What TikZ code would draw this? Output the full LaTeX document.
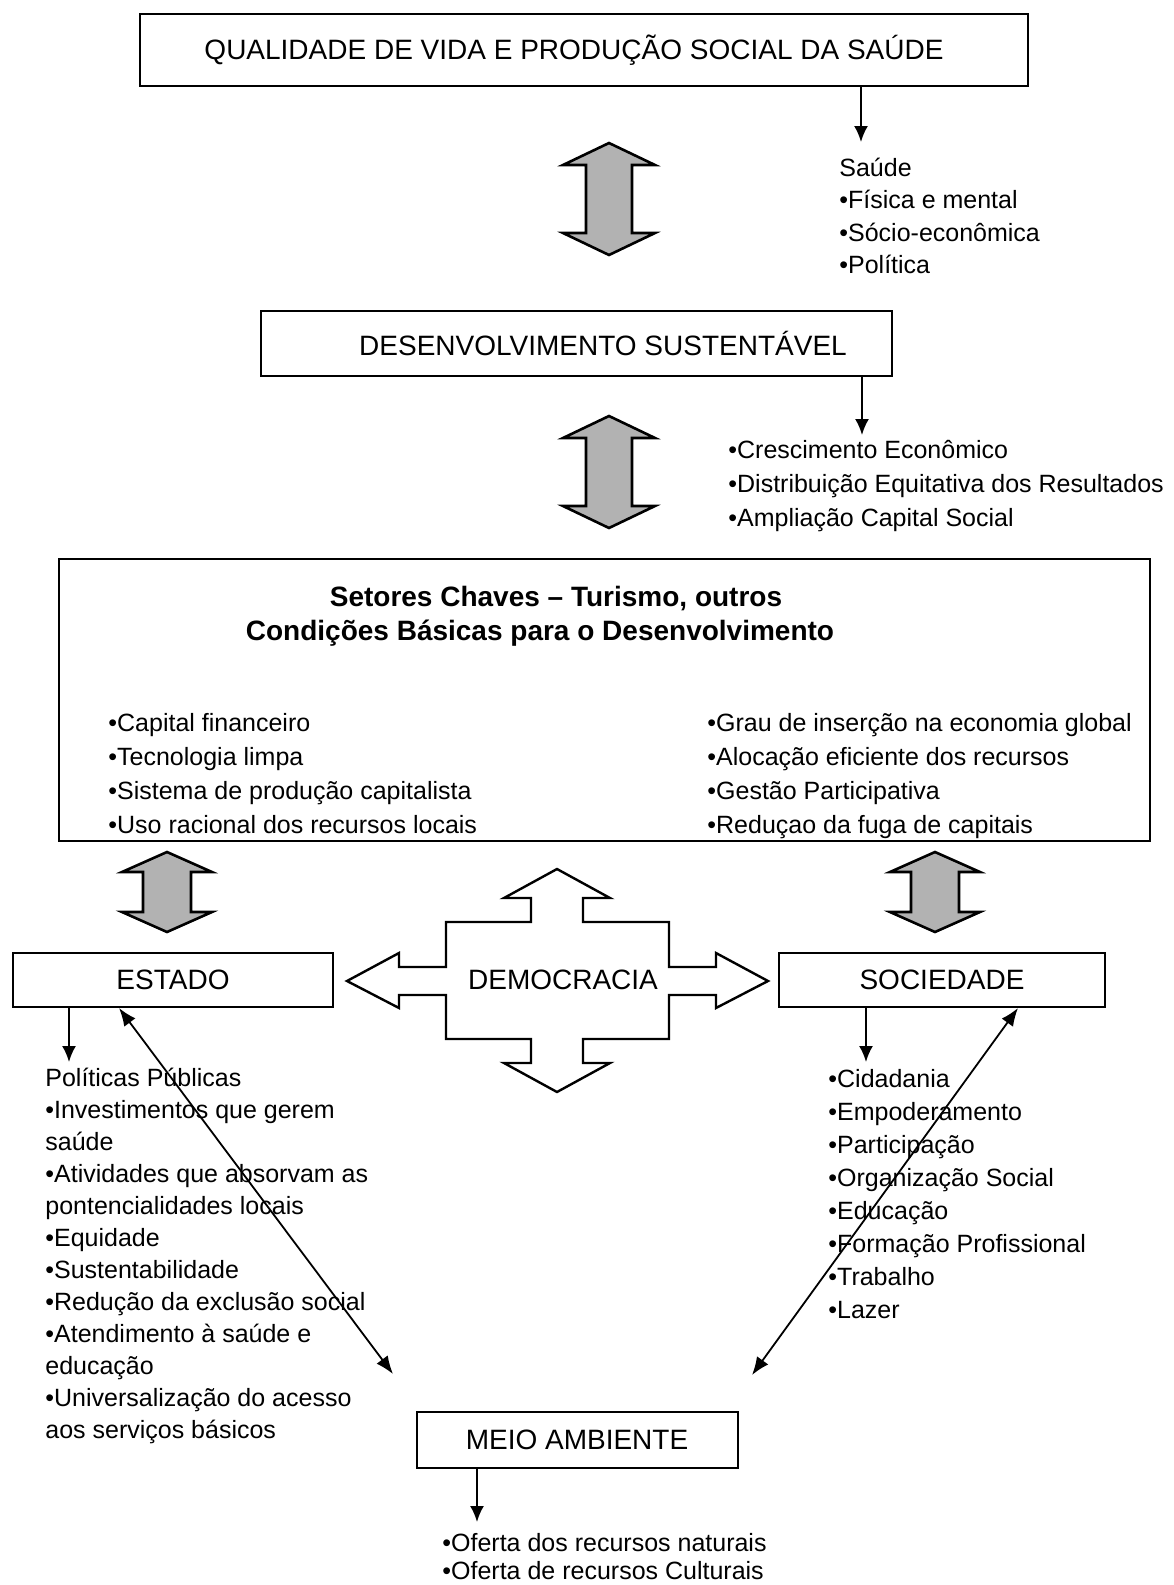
\documentclass[tikz,border=0pt]{standalone}
\usepackage{fontspec}
\setmainfont{Liberation Sans}
\usetikzlibrary{arrows.meta}

\tikzset{
  box/.style={draw, line width=1pt, inner sep=0pt, font=\fontsize{14}{17}\selectfont},
  item/.style={anchor=base west, inner sep=0pt, font=\fontsize{12.5}{15}\selectfont},
  conn/.style={line width=1pt, -{Latex[length=8pt,width=7pt]}},
  diag/.style={line width=0.9pt, {Latex[length=9pt,width=7pt]}-{Latex[length=9pt,width=7pt]}},
  fatarrow/.style={draw, line width=1.3pt, fill=gray!60, line join=miter},
  hollow/.style={draw, line width=1.2pt, fill=white, line join=miter}
}

\begin{document}
\begin{tikzpicture}[x=0.5pt, y=-0.5pt]
  \useasboundingbox (0,0) rectangle (1173,1585);

  % boxes
  \node[box, minimum width=444pt, minimum height=36pt] (qual) at (584,50) {QUALIDADE DE VIDA E PRODUÇÃO SOCIAL DA SAÚDE\hspace*{10pt}};
  \node[box, minimum width=315.5pt, minimum height=32.5pt] (desenv) at (576,343) {\hspace*{27pt}DESENVOLVIMENTO SUSTENTÁVEL};
  \node[box, minimum width=545.5pt, minimum height=141pt] (setores) at (604.5,700) {};
  \node[font=\bfseries\fontsize{14}{17}\selectfont] (titulo1) at (556,599) {Setores Chaves – Turismo, outros};
  \node[font=\bfseries\fontsize{14}{17}\selectfont] (titulo2) at (540,633) {Condições Básicas para o Desenvolvimento};
  \node[box, minimum width=160pt, minimum height=27pt] (estado) at (173,980) {ESTADO};
  \node[box, minimum width=163pt, minimum height=27pt] (sociedade) at (942,980) {SOCIEDADE};
  \node[box, minimum width=160.5pt, minimum height=28pt] (meio) at (577,1440) {MEIO AMBIENTE};

  % gray double arrows
  \foreach \cx/\ty/\by/\hw/\sw/\hh in {609/143/255/46/23/22, 609/416/528/46/23/22, 167/852/932/45/24/20, 935/852/932/45/24/20}
    \draw[fatarrow] (\cx,\ty) -- (\cx+\hw,\ty+\hh) -- (\cx+\sw,\ty+\hh) -- (\cx+\sw,\by-\hh) -- (\cx+\hw,\by-\hh) -- (\cx,\by)
      -- (\cx-\hw,\by-\hh) -- (\cx-\sw,\by-\hh) -- (\cx-\sw,\ty+\hh) -- (\cx-\hw,\ty+\hh) -- cycle;

  % democracia
  \draw[hollow] (557,869) -- (610,898) -- (583,898) -- (583,922) -- (669,922) -- (669,967) -- (716,967) -- (716,953)
    -- (768,981) -- (716,1008) -- (716,995) -- (669,995) -- (669,1039) -- (583,1039) -- (583,1063) -- (610,1063)
    -- (557,1092) -- (504,1063) -- (531,1063) -- (531,1039) -- (446,1039) -- (446,995) -- (399,995) -- (399,1008)
    -- (347,981) -- (399,953) -- (399,967) -- (446,967) -- (446,922) -- (531,922) -- (531,898) -- (504,898) -- cycle;
  \node[font=\fontsize{14}{17}\selectfont] (demo) at (563,980) {DEMOCRACIA};

  % lists (baselines)
  \foreach \t [count=\i from 0] in {Saúde, •Física e mental, •Sócio-econômica, •Política}
    \node[item] (saude\i) at (839,176+32.5*\i) {\t};
  \foreach \t [count=\i from 0] in {•Crescimento Econômico, •Distribuição Equitativa dos Resultados, •Ampliação Capital Social}
    \node[item] (cresc\i) at (728,458+34*\i) {\t};
  \foreach \t [count=\i from 0] in {•Capital financeiro, •Tecnologia limpa, •Sistema de produção capitalista, •Uso racional dos recursos locais}
    \node[item] (cond\i) at (108,731+34*\i) {\t};
  \foreach \t [count=\i from 0] in {•Grau de inserção na economia global, •Alocação eficiente dos recursos, •Gestão Participativa, •Reduçao da fuga de capitais}
    \node[item] (glob\i) at (707,731+34*\i) {\t};
  \foreach \t [count=\i from 0] in {Políticas Públicas, •Investimentos que gerem, saúde, •Atividades que absorvam as, pontencialidades locais,
      •Equidade, •Sustentabilidade, •Redução da exclusão social, •Atendimento à saúde e, educação, •Universalização do acesso, aos serviços básicos}
    \node[item] (pol\i) at (45,1086+32*\i) {\t};
  \foreach \t [count=\i from 0] in {•Cidadania, •Empoderamento, •Participação, •Organização Social, •Educação, •Formação Profissional, •Trabalho, •Lazer}
    \node[item] (soc\i) at (828,1087+33*\i) {\t};
  \foreach \t [count=\i from 0] in {•Oferta dos recursos naturais, •Oferta de recursos Culturais}
    \node[item] (ofer\i) at (442,1551+28*\i) {\t};

  % connectors
  \coordinate (a1) at (861,142);
  \coordinate (a2) at (862,435);
  \coordinate (a3) at (69,1062);
  \coordinate (a4) at (866,1062);
  \coordinate (a5) at (477,1522);
  \draw[conn] (qual.south -| a1) -- (a1);
  \draw[conn] (desenv.south -| a2) -- (a2);
  \draw[conn] (estado.south -| a3) -- (a3);
  \draw[conn] (sociedade.south -| a4) -- (a4);
  \draw[conn] (meio.south -| a5) -- (a5);

  \coordinate (e1) at (119,1009);
  \coordinate (e2) at (393,1374);
  \coordinate (s1) at (1018,1009);
  \coordinate (s2) at (752,1375);
  \draw[diag] (estado.south -| e1) -- (e2);
  \draw[diag] (sociedade.south -| s1) -- (s2);

\end{tikzpicture}
\end{document}
